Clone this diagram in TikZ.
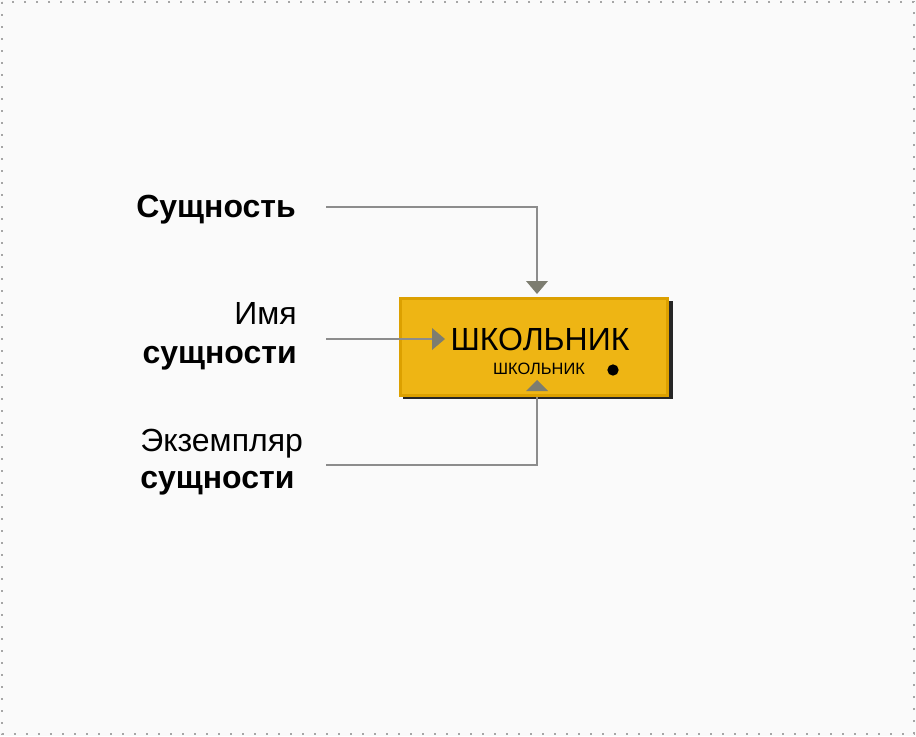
\documentclass[tikz,border=0pt]{standalone}
\usepackage{fontspec}
\setmainfont{Liberation Sans}
\definecolor{bg}{HTML}{FAFAFA}
\definecolor{gold}{HTML}{EEB514}
\definecolor{golddark}{HTML}{DCA000}
\definecolor{arrowc}{HTML}{7D7D70}
\definecolor{linec}{HTML}{8C8C8C}
\begin{document}
\begin{tikzpicture}[x=0.75pt,y=-0.75pt,
  lbl/.style={inner sep=0pt,font=\fontsize{24}{28}\selectfont},
  lblb/.style={lbl,font=\fontsize{24}{28}\selectfont\bfseries},
  conn/.style={draw=linec,line width=1.1pt},
  tri/.style={fill=arrowc,draw=none}]
\path[use as bounding box,fill=bg] (0,0) rectangle (916,736);
\draw[gray!70,line width=1.3pt,dash pattern=on 1.3pt off 7.7pt] (2,2) rectangle (914,734);
% entity box with shadow
\fill[black!85] (403,301) rectangle (673,399);
\node[draw=golddark,line width=2.2pt,fill=gold,minimum width=200.25pt,minimum height=72.75pt,inner sep=0pt,anchor=north west] (box) at (399,297) {};
\node[inner sep=0pt,font=\fontsize{24}{28}\selectfont] (big) at (540,339) {ШКОЛЬНИК};
\node[inner sep=0pt,font=\fontsize{12.3}{14}\selectfont] (small) at (539,369) {ШКОЛЬНИК};
\node[circle,fill=black,inner sep=0pt,minimum size=8.5pt] (dot) at (613,370) {};
% labels
\node[lblb,anchor=base west] (ent) at (136,217) {Сущность};
\node[lbl,anchor=base east] (nm1) at (297,324) {Имя};
\node[lblb,anchor=base east] (nm2) at (297,363) {сущности};
\node[lbl,anchor=base west] (ex1) at (140,451) {Экземпляр};
\node[lblb,anchor=base west] (ex2) at (140,488) {сущности};
% connector points
\coordinate (eS) at (326,207);
\coordinate (eC) at (537,207);
\coordinate (eB) at (537,282);
\coordinate (nS) at (326,339);
\coordinate (nB) at (433,339);
\coordinate (xS) at (326,465);
\coordinate (xC) at (537,465);
% connectors
\draw[conn] (eS) -- (eC) -- (eB);
\path[tri] (526,281) -- (548,281) -- (537,294) -- cycle;
\draw[conn] (nS) -- (nB);
\path[tri] (432,328) -- (432,350) -- (445,339) -- cycle;
\draw[conn] (xS) -- (xC) -- (box.south -| xC);
\path[tri] (526,391) -- (548,391) -- (537,380) -- cycle;
\end{tikzpicture}
\end{document}
